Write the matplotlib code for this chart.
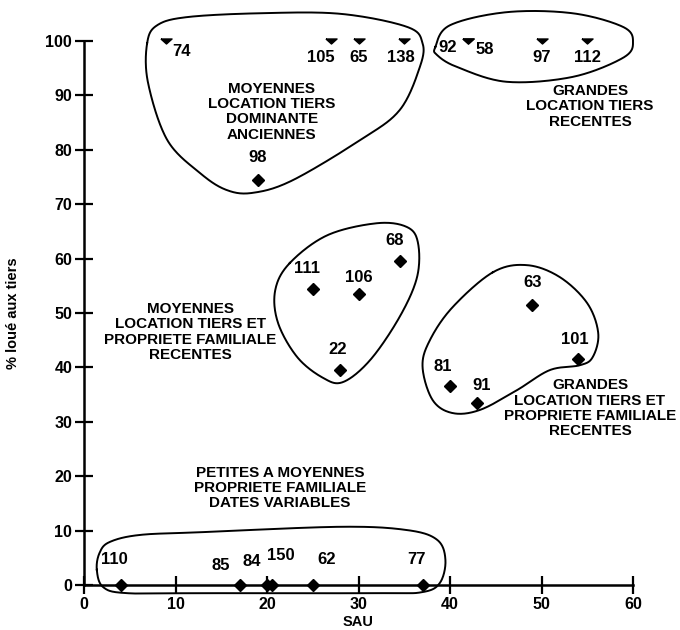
import numpy as np
import matplotlib
matplotlib.use("Agg")
import matplotlib.pyplot as plt

plt.rcParams["font.family"] = ["Liberation Sans", "DejaVu Sans"]

# ------------------------------------------------------------------
# données : n° d'exploitation, SAU, % loué aux tiers
# ------------------------------------------------------------------
ids = ["74", "105", "65", "138", "92", "58", "97", "112",
       "98", "111", "106", "68", "22", "63", "101", "81", "91",
       "110", "85", "84", "150", "62", "77"]
sau = [9, 27, 30, 35, 42, 42, 50, 55,
       19, 25, 30, 34.5, 28, 49, 54, 40, 43,
       4, 17, 20, 20.5, 25, 37]
pct = [100, 100, 100, 100, 100, 100, 100, 100,
       74.5, 54.5, 53.5, 59.5, 39.5, 51.5, 41.5, 36.5, 33.5,
       0, 0, 0, 0, 0, 0]

# décalage des étiquettes (pixels)
lab_off = {"74": (15, -11), "105": (-10, -17), "65": (0, -17), "138": (-3, -17),
           "92": (-21, -7), "58": (16, -8), "97": (0, -17), "112": (0, -17),
           "98": (0, 22), "111": (-6, 20), "106": (0, 16), "68": (-5, 21),
           "22": (-3, 21), "63": (0, 22), "101": (-3, 20), "81": (-7, 20),
           "91": (4, 17), "110": (-6, 25), "85": (-19, 20), "84": (-15, 23),
           "150": (9, 29), "62": (14, 25), "77": (-6, 25)}

# contours des groupes (points de contrôle, coordonnées données)
groupes = [
    [(6.9, 99.6), (8.0, 102.9), (11.3, 104.4), (19.2, 105.1), (28.0, 105.0),
     (35.3, 102.6), (37.0, 99.6), (36.7, 95.2), (34.5, 87.3), (30.2, 81.8),
     (22.8, 74.4), (18.5, 72.1), (15.6, 72.6), (12.7, 75.7), (9.1, 81.8),
     (7.0, 92.3)],
    [(38.4, 98.9), (40.0, 102.9), (46.2, 105.3), (53.4, 105.1), (58.9, 102.6),
     (60.0, 99.8), (58.9, 96.9), (53.4, 93.4), (46.2, 92.5), (40.8, 95.2),
     (38.6, 97.4)],
    [(22.5, 59.2), (26.6, 64.3), (32.0, 66.5), (35.3, 65.8), (36.5, 62.9),
     (36.4, 56.6), (34.5, 49.3), (31.3, 41.4), (28.3, 37.3), (26.1, 38.1),
     (23.3, 41.9), (21.2, 48.2), (20.9, 54.2)],
    [(44.7, 57.5), (48.4, 58.8), (52.0, 56.6), (55.0, 51.8), (56.2, 46.3),
     (55.6, 41.9), (54.2, 40.4), (50.9, 39.5), (47.3, 35.8), (43.3, 32.2),
     (40.3, 31.6), (38.1, 34.0), (37.0, 40.1), (37.8, 45.0), (40.3, 51.1)],
    [(1.4, 2.8), (1.7, 5.9), (2.8, 7.9), (6.1, 9.2), (12.7, 9.7), (28.0, 10.7),
     (35.3, 10.1), (38.6, 8.3), (39.5, 4.6), (38.9, 0.4), (37.0, -1.3),
     (32.3, -1.5), (12.7, -1.5), (4.7, -1.5), (2.1, -0.4)],
]

textes = [
    ("MOYENNES\nLOCATION TIERS\nDOMINANTE\nANCIENNES", 20.5, 87.0),
    ("GRANDES\nLOCATION TIERS\nRECENTES", 55.3, 88.0),
    ("MOYENNES\nLOCATION TIERS ET\nPROPRIETE FAMILIALE\nRECENTES", 11.6, 46.5),
    ("GRANDES\nLOCATION TIERS ET\nPROPRIETE FAMILIALE\nRECENTES", 55.3, 32.5),
    ("PETITES A MOYENNES\nPROPRIETE FAMILIALE\nDATES VARIABLES", 21.4, 17.8),
]

# triangle aplati pointe en bas (valeurs tronquées à 100 %)
TRI = [(-1, 0.45), (1, 0.45), (0, -0.45), (-1, 0.45)]


def contour_lisse(pts, n=30):
    # spline de Catmull-Rom fermée
    p = np.array(pts)
    out = []
    k = len(p)
    for i in range(k):
        p0, p1, p2, p3 = p[i - 1], p[i], p[(i + 1) % k], p[(i + 2) % k]
        t = np.linspace(0, 1, n, endpoint=False)[:, None]
        out.append(0.5 * ((2 * p1) + (-p0 + p2) * t
                          + (2 * p0 - 5 * p1 + 4 * p2 - p3) * t ** 2
                          + (-p0 + 3 * p1 - 3 * p2 + p3) * t ** 3))
    out = np.vstack(out)
    return np.vstack([out, out[:1]])


fig = plt.figure(figsize=(6.8, 6.3), dpi=100)
ax = fig.add_axes([84 / 680, 45 / 630, 549 / 680, 544 / 630])

for x, y in zip(sau, pct):
    if y >= 100:
        ax.plot(x, y, marker=TRI, color="black", ms=8, ls="none",
                clip_on=False, zorder=5)
    else:
        ax.plot(x, y, marker="D", color="black", ms=6, ls="none",
                clip_on=False, zorder=5)
for name, x, y in zip(ids, sau, pct):
    dx, dy = lab_off[name]
    ax.annotate(name, (x, y), xytext=(dx, dy), textcoords="offset pixels",
                ha="center", va="center", fontsize=12, fontweight="bold",
                annotation_clip=False)

for g in groupes:
    c = contour_lisse(g)
    ax.plot(c[:, 0], c[:, 1], color="black", lw=1.4, clip_on=False)

for txt, x, y in textes:
    ax.text(x, y, txt, ha="center", va="center", fontsize=11,
            fontweight="bold", linespacing=1.12)

ax.set_xlim(0, 60)
ax.set_ylim(0, 100)
ax.set_xticks(np.arange(0, 61, 10))
ax.set_yticks(np.arange(0, 101, 10))
ax.spines[["top", "right"]].set_visible(False)
for s in ["left", "bottom"]:
    ax.spines[s].set_linewidth(1.8)
ax.tick_params(direction="inout", length=13, width=1.6, labelsize=11.5, pad=2)
for lab in ax.get_xticklabels() + ax.get_yticklabels():
    lab.set_fontweight("bold")
ax.set_xlabel("SAU", fontsize=10.5, fontweight="bold", labelpad=2)
ax.set_ylabel("% loué aux tiers", fontsize=10.5, fontweight="bold", labelpad=18)

fig.savefig("out.png", dpi=100)
